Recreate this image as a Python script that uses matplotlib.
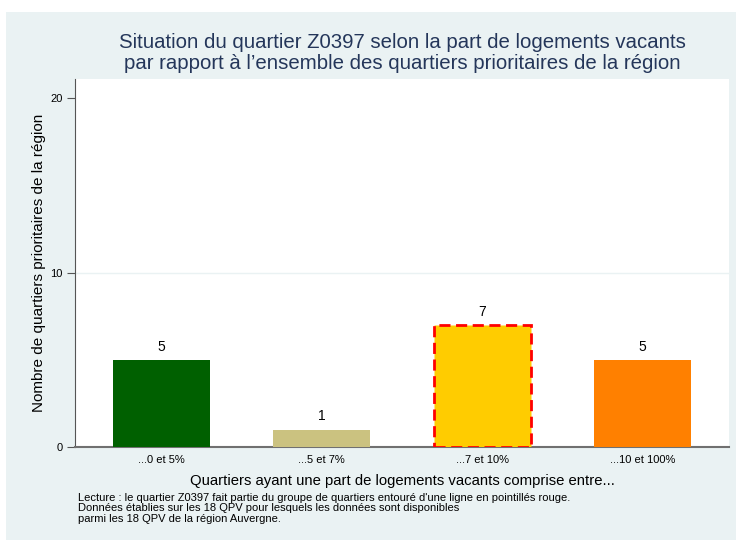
import matplotlib
matplotlib.use("Agg")
import matplotlib.pyplot as plt
from matplotlib.patches import Rectangle

categories = ["...0 et 5%", "...5 et 7%", "...7 et 10%", "...10 et 100%"]
values = [5, 1, 7, 5]
colors = ["#006000", "#cbc280", "#ffcc00", "#ff8000"]
highlight = 2
yticks = [0, 10, 20]

title = ("Situation du quartier Z0397 selon la part de logements vacants\n"
         "par rapport à l’ensemble des quartiers prioritaires de la région")
xlabel = "Quartiers ayant une part de logements vacants comprise entre..."
ylabel = "Nombre de quartiers prioritaires de la région"
note = ("Lecture : le quartier Z0397 fait partie du groupe de quartiers entouré d'une ligne en pointillés rouge.\n"
        "Données établies sur les 18 QPV pour lesquels les données sont disponibles\n"
        "parmi les 18 QPV de la région Auvergne.")

plt.rcParams['font.family'] = ['Liberation Sans', 'DejaVu Sans']

W, H = 736, 543
fig = plt.figure(figsize=(W / 100, H / 100), dpi=100)
fig.patch.set_facecolor("white")
bg = Rectangle((6 / W, 1 - 540 / H), (736 - 6) / W, (540 - 12) / H,
               transform=fig.transFigure, facecolor="#eaf2f3", edgecolor="none", zorder=-10)
fig.patches.append(bg)

ax = fig.add_axes([75 / W, 1 - 447 / H, (729 - 75) / W, (447 - 79) / H])
ax.set_facecolor("white")

x = list(range(len(categories)))
bars = ax.bar(x, values, width=0.605, color=colors, zorder=3)
b = bars[highlight]
b.set_edgecolor("#ff0000")
b.set_linewidth(2)
b.set_linestyle((0, (4, 2)))

for xi, v in zip(x, values):
    ax.annotate(str(v), (xi, v), xytext=(0, 4.5), textcoords="offset points",
                ha="center", va="bottom", fontsize=10, color="black")

ax.set_xlim(-0.54, 3.54)
ax.set_ylim(0, 21.1)
ax.set_yticks(yticks)
ax.set_yticklabels([str(t) for t in yticks], fontsize=8)
ax.set_xticks(x)
ax.set_xticklabels(categories, fontsize=8)
ax.tick_params(axis="x", length=0, pad=6)
ax.tick_params(axis="y", length=6, color="#555555", pad=3)
ax.axhline(10, color="#eaf2f3", lw=1, zorder=1)

for s in ["top", "right"]:
    ax.spines[s].set_visible(False)
ax.spines["left"].set_color("#555555")
ax.spines["bottom"].set_color("#707070")
ax.spines["bottom"].set_linewidth(1.5)

ax.set_xlabel(xlabel, fontsize=10.7, labelpad=6)
ax.set_ylabel(ylabel, fontsize=11, labelpad=3)
ax.set_title(title, fontsize=14.7, color="#24365a", pad=7, linespacing=1.12)

fig.text(78 / W, 1 - 493 / H, note, fontsize=8, va="top", ha="left", linespacing=1.05)

fig.savefig("out.png", dpi=100, facecolor=fig.get_facecolor())
